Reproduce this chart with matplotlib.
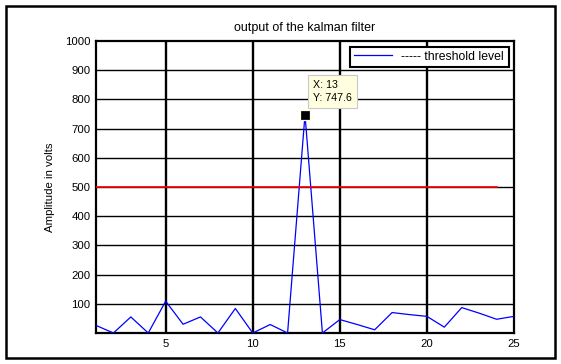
import numpy as np
import matplotlib.pyplot as plt
from matplotlib.patches import Rectangle

plt.rcParams['font.family'] = ['Liberation Sans', 'DejaVu Sans']

# kalman filter output, one value per sample
samples = np.arange(1, 26)
amplitude = [26, 0, 55, 0, 109, 30, 55, 0, 84, 0, 29, 0, 747.6, 0, 46,
             29, 11, 70, 63, 57, 20, 87, 68, 47, 57]
threshold_x = np.arange(1, 25)
threshold = [500] * 24
tip_x, tip_y = 13, 747.6

fig = plt.figure(figsize=(5.61, 3.64), dpi=100)
ax = fig.add_axes([96 / 561, 1 - 333 / 364, 418 / 561, 292 / 364])

ax.plot(samples, amplitude, color='blue', lw=0.9, label='----- threshold level', zorder=3)
ax.plot(threshold_x, threshold, color='red', lw=1.2, zorder=3)

ax.set_xlim(1, 25)
ax.set_ylim(0, 1000)
ax.set_xticks([5, 10, 15, 20, 25])
ax.set_yticks(np.arange(100, 1001, 100))
ax.tick_params(labelsize=8.2, length=0, pad=4)

# matlab style grid, vertical lines drawn heavier
for xv in [5, 10, 15, 20]:
    ax.axvline(xv, color='black', lw=1.7, zorder=1)
for yv in range(100, 1000, 100):
    ax.axhline(yv, color='black', lw=1.0, zorder=1)
for s in ax.spines.values():
    s.set_linewidth(1.6)

ax.set_title('output of the kalman filter', fontsize=9, pad=7)
ax.set_ylabel('Amplitude in volts', fontsize=8.2, labelpad=7)

leg = ax.legend(loc='upper right', fontsize=8.8, fancybox=False, framealpha=1,
                handlelength=3.1, borderpad=0.35, borderaxespad=0.45)
leg.get_frame().set_edgecolor('black')
leg.get_frame().set_linewidth(1.5)

# data tip
ax.plot(tip_x, tip_y, marker='s', ms=6.5, color='black', mec='#ffffe0', mew=0.9, zorder=5)
ax.text(tip_x + 0.45, 868, 'X: 13\nY: 747.6', fontsize=7.7, va='top', ha='left',
        linespacing=1.45, zorder=6,
        bbox=dict(boxstyle='square,pad=0.45', fc='#ffffe0', ec='#c8c8c8', lw=0.8))

# outer frame
fig.patches.append(Rectangle((6 / 561, 6 / 364), 549 / 561, 352 / 364, transform=fig.transFigure,
                             fill=False, ec='black', lw=1.8))

fig.savefig('out.png', dpi=100)
